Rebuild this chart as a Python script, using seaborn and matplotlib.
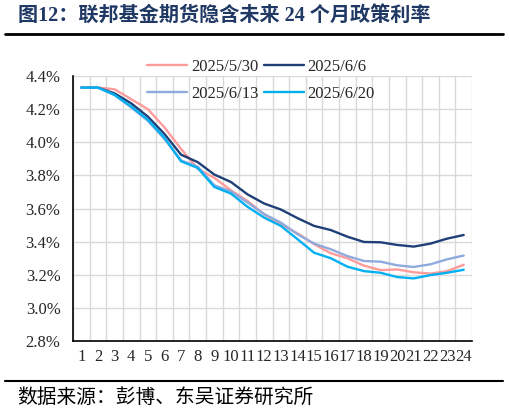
import numpy as np
import pandas as pd
import matplotlib
matplotlib.use("Agg")
import matplotlib.pyplot as plt
import seaborn as sns
from matplotlib.lines import Line2D
from matplotlib.ticker import FuncFormatter

# implied policy rate (%) for each of the next 24 months, per snapshot date
months = list(range(1, 25))
dates = ["2025/5/30", "2025/6/6", "2025/6/13", "2025/6/20"]
rate_0530 = [4.33, 4.33, 4.32, 4.26, 4.20, 4.09, 3.96, 3.84, 3.785, 3.71, 3.645, 3.565,
             3.505, 3.45, 3.385, 3.33, 3.30, 3.255, 3.228, 3.232, 3.215, 3.207, 3.222, 3.26]
rate_0606 = [4.33, 4.33, 4.295, 4.235, 4.155, 4.05, 3.925, 3.88, 3.805, 3.76, 3.685, 3.63,
             3.594, 3.542, 3.495, 3.47, 3.43, 3.398, 3.396, 3.38, 3.37, 3.388, 3.418, 3.44]
rate_0613 = [4.33, 4.33, 4.285, 4.21, 4.13, 4.02, 3.89, 3.853, 3.74, 3.703, 3.636, 3.566,
             3.515, 3.445, 3.388, 3.354, 3.313, 3.283, 3.279, 3.257, 3.247, 3.263, 3.293, 3.316]
rate_0620 = [4.33, 4.33, 4.286, 4.216, 4.136, 4.027, 3.885, 3.845, 3.73, 3.69, 3.61, 3.545,
             3.495, 3.415, 3.333, 3.30, 3.249, 3.222, 3.212, 3.186, 3.178, 3.198, 3.212, 3.23]
colors = ["#FF9B9B", "#1F3F77", "#8FAADC", "#00B0F0"]

title = "图12：联邦基金期货隐含未来 24 个月政策利率"
source = "数据来源：彭博、东吴证券研究所"

df = pd.DataFrame({
    "month": months * 4,
    "rate": rate_0530 + rate_0606 + rate_0613 + rate_0620,
    "date": np.repeat(dates, len(months)),
})

sns.set_style("white")
plt.rcParams["font.family"] = ["Liberation Serif", "Noto Sans CJK SC"]

W, H = 509, 413
fig = plt.figure(figsize=(W / 100, H / 100), dpi=100)
ax = fig.add_axes([73 / W, 1 - 341 / H, (472 - 73) / W, (341 - 76) / H])

sns.lineplot(data=df, x="month", y="rate", hue="date", hue_order=dates,
             palette=colors, linewidth=1.7, errorbar=None, ax=ax)
handles, labels = ax.get_legend_handles_labels()
ax.legend_.remove()

# axes: category boundaries carry grid + ticks, labels sit in the middle
ax.set_xlim(0.5, 24.5)
ax.set_ylim(2.8, 4.4)
ax.set_xticks(np.arange(0.5, 25, 1))
ax.set_xticklabels([])
ax.set_xticks(months, minor=True)
ax.set_xticklabels([str(m) for m in months], minor=True)
ax.set_yticks(np.arange(2.8, 4.41, 0.2))
ax.yaxis.set_major_formatter(FuncFormatter(lambda v, _: f"{v:.1f}%"))
ax.grid(True, color="#D9D9D9", lw=1)
ax.set_axisbelow(True)
ax.set_xlabel("")
ax.set_ylabel("")

ax.tick_params(axis="x", which="major", direction="inout", length=8, width=1, color="black")
ax.tick_params(axis="x", which="minor", length=0, pad=6, labelsize=12)
ax.tick_params(axis="y", direction="out", length=4, width=1, color="black", pad=5, labelsize=12)
for s in ["top", "right"]:
    ax.spines[s].set_visible(False)
for s in ["left", "bottom"]:
    ax.spines[s].set_color("black")
    ax.spines[s].set_linewidth(1.2)

# legend in two rows, row-wise order
order = [0, 2, 1, 3]
fig.legend([handles[i] for i in order], [labels[i] for i in order],
           loc="upper left", bbox_to_anchor=(147 / W, 1 - 59 / H), ncol=2,
           frameon=False, fontsize=12, handlelength=2.4, handletextpad=0.25,
           columnspacing=0.3, labelspacing=0.65, borderpad=0, borderaxespad=0)

fig.text(18 / W, 1 - 16 / H, title, fontsize=14.5, fontweight="bold", color="#1F3864",
         va="center", ha="left")
fig.add_artist(Line2D([5 / W, 503 / W], [1 - 34 / H] * 2, color="black", lw=2))
fig.add_artist(Line2D([5 / W, 503 / W], [1 - 381 / H] * 2, color="black", lw=1.5))
fig.text(17 / W, 1 - 397 / H, source, fontsize=14.2, color="black",
         va="center", ha="left", family=["Noto Sans CJK SC", "Liberation Serif"])

fig.savefig("out.png", dpi=100)
